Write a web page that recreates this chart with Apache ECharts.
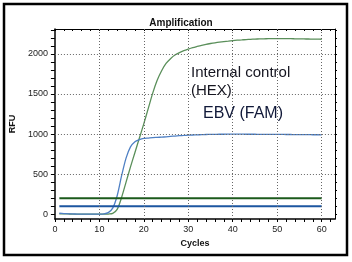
<!DOCTYPE html>
<html><head><meta charset="utf-8">
<script src="https://cdn.jsdelivr.net/npm/echarts@6/dist/echarts.min.js"></script>
<style>html,body{margin:0;padding:0;background:#fff}#c{width:352px;height:262px}</style>
</head><body><div id="c"></div>
<script>
const cycles = [1,2,3,4,5,6,7,8,9,10,11,12,13,14,15,16,17,18,19,20,21,22,23,24,25,26,27,28,29,30,31,32,33,34,35,36,37,38,39,40,41,42,43,44,45,46,47,48,49,50,51,52,53,54,55,56,57,58,59,60];
const ebvFam = [12,8,5,3,2,1,0,0,0,1,4,20,75,230,480,700,840,905,930,945,950,955,958,961,965,970,975,979,982,985,988,990,992,994,995,996,997,997,998,998,998,998,997,997,997,996,996,996,995,995,995,994,994,993,993,992,992,991,991,990];
const hexIc = [5,4,3,2,2,1,1,0,0,0,0,2,10,60,210,400,590,770,950,1130,1320,1510,1670,1790,1880,1940,1985,2015,2040,2060,2078,2093,2107,2119,2129,2138,2146,2153,2159,2165,2170,2174,2178,2181,2184,2186,2188,2189,2190,2190,2190,2189,2189,2188,2187,2186,2185,2184,2183,2182];
const famThreshold = 100;  // blue (FAM) threshold
const hexThreshold = 200;  // green (HEX) threshold
const yLabels = [0,500,1000,1500,2000];
const xLabels = [0,10,20,30,40,50,60];
const yTicks = [0,100,200,300,400,500,600,700,800,900,1000,1100,1200,1300,1400,1500,1600,1700,1800,1900,2000,2100,2200,2300];
const xTicks = [0,2,4,6,8,10,12,14,16,18,20,22,24,26,28,30,32,34,36,38,40,42,44,46,48,50,52,54,56,58,60,62];

const FONT = 'Liberation Sans, Arial, sans-serif';
const chart = echarts.init(document.getElementById('c'), null, {renderer:'canvas'});
const gridLine = {type:[1,2], color:'#666', width:1};
const pair = (xs, ys) => xs.map((x,i)=>[x, ys[i]]);
const fmt = v => String(v);
chart.setOption({
  animation:false,
  title:{text:'Amplification', left:176, top:13, textAlign:'center',
    textStyle:{fontFamily:FONT, fontSize:10, fontWeight:'bold', color:'#111'}},
  grid:{left:54, top:29, right:17, bottom:43},
  xAxis:[{
    type:'value', min:0, max:63,
    name:'Cycles', nameLocation:'middle', nameGap:20,
    nameTextStyle:{fontFamily:FONT, fontSize:9, fontWeight:'bold', color:'#111'},
    axisLine:{show:true, onZero:false, lineStyle:{color:'#000', width:1.5}},
    axisTick:{show:true, customValues:xTicks, length:3, lineStyle:{color:'#000', width:1}},
    axisLabel:{customValues:xLabels, formatter:fmt, fontFamily:FONT, fontSize:9, color:'#222', margin:6},
    splitLine:{show:false}
  },{
    type:'value', min:0, max:63, position:'top',
    axisLine:{show:true, onZero:false, lineStyle:{color:'#000', width:1}},
    axisTick:{show:true, inside:true, customValues:xTicks, length:2, lineStyle:{color:'#000', width:1}},
    axisLabel:{show:false}, splitLine:{show:false}
  }],
  yAxis:[{
    type:'value', min:-60, max:2310,
    name:'RFU', nameLocation:'middle', nameGap:34, nameRotate:90,
    nameTextStyle:{fontFamily:FONT, fontSize:9, fontWeight:'bold', color:'#111'},
    axisLine:{show:true, onZero:false, lineStyle:{color:'#000', width:1.5}},
    axisTick:{show:true, customValues:yTicks, length:4, lineStyle:{color:'#000', width:1}},
    axisLabel:{customValues:yLabels, formatter:fmt, fontFamily:FONT, fontSize:9, color:'#222', margin:7},
    splitLine:{show:false}
  },{
    type:'value', min:-60, max:2310, position:'right',
    axisLine:{show:true, onZero:false, lineStyle:{color:'#000', width:1}},
    axisTick:{show:true, customValues:yTicks, length:2, lineStyle:{color:'#000', width:1}},
    axisLabel:{show:false}, splitLine:{show:false}
  }],
  series:[
    {type:'line', data:[], silent:true,
      markLine:{symbol:'none', silent:true, label:{show:false}, lineStyle:gridLine,
        data:[...yLabels.slice(1).map(v=>({yAxis:v})), ...xLabels.slice(1).map(v=>({xAxis:v}))]}},
    {name:'HEX', type:'line', data:pair(cycles, hexIc), showSymbol:false, smooth:0.3,
      lineStyle:{color:'#5a8f5a', width:1.3}, itemStyle:{color:'#5a8f5a'}, z:3},
    {name:'FAM', type:'line', data:pair(cycles, ebvFam), showSymbol:false, smooth:0.3,
      lineStyle:{color:'#4f80c4', width:1.3}, itemStyle:{color:'#4f80c4'}, z:3},
    {type:'line', data:[[1,hexThreshold],[60,hexThreshold]], showSymbol:false,
      lineStyle:{color:'#1b5a1b', width:2}, z:4},
    {type:'line', data:[[1,famThreshold],[60,famThreshold]], showSymbol:false,
      lineStyle:{color:'#1c56a0', width:2}, z:4}
  ],
  graphic:[
    {type:'rect', shape:{x:4, y:4, width:343, height:251}, style:{fill:'none', stroke:'#000', lineWidth:2.5}, z:10},
    {type:'text', left:191, top:64, style:{text:'Internal control\n(HEX)', font:'15px '+FONT, fill:'#151520', lineHeight:18}, z:10},
    {type:'text', left:203, top:106, style:{text:'EBV (FAM)', font:'16px '+FONT, fill:'#101838'}, z:10}
  ]
});
</script></body></html>
